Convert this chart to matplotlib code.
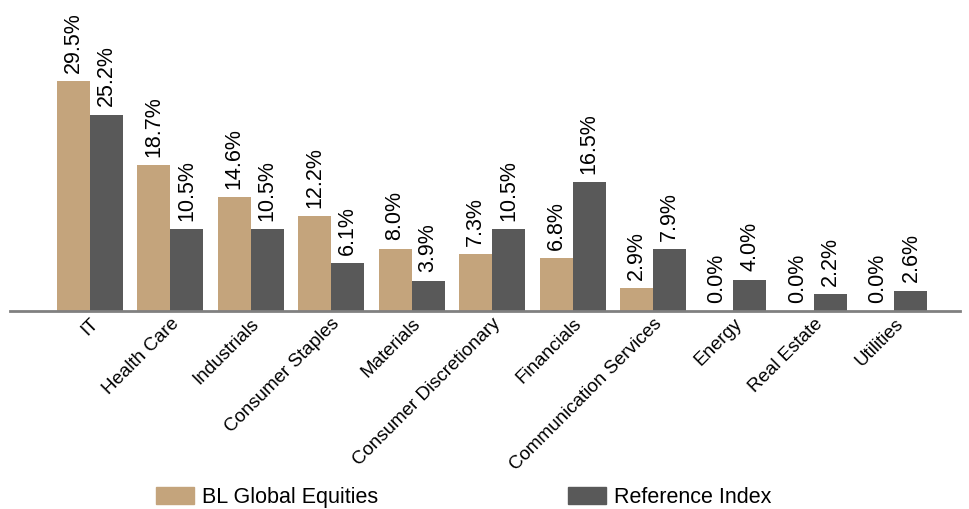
import matplotlib
matplotlib.use("Agg")
import matplotlib.pyplot as plt
import numpy as np
from matplotlib.patches import Patch

sectors = ["IT", "Health Care", "Industrials", "Consumer Staples", "Materials",
           "Consumer Discretionary", "Financials", "Communication Services",
           "Energy", "Real Estate", "Utilities"]
bl_global = [29.5, 18.7, 14.6, 12.2, 8.0, 7.3, 6.8, 2.9, 0.0, 0.0, 0.0]
reference = [25.2, 10.5, 10.5, 6.1, 3.9, 10.5, 16.5, 7.9, 4.0, 2.2, 2.6]
series_names = ["BL Global Equities", "Reference Index"]

tan = "#c4a47c"
dark = "#595959"

plt.rcParams["font.family"] = ["Liberation Sans", "DejaVu Sans"]

fig = plt.figure(figsize=(9.7, 5.09), dpi=100)
ax = fig.add_axes([0.0103, 0.389, 0.979, 0.611])

x = np.arange(len(sectors))
w = 0.41
b1 = ax.bar(x - w / 2, bl_global, w, color=tan)
b2 = ax.bar(x + w / 2, reference, w, color=dark)

# value labels above each bar
for bars, vals in ((b1, bl_global), (b2, reference)):
    for bar, v in zip(bars, vals):
        ax.annotate(f"{v:.1f}%", (bar.get_x() + bar.get_width() / 2, v),
                    xytext=(0, 6), textcoords="offset points",
                    rotation=90, ha="center", va="bottom", fontsize=15.5)

ax.set_xlim(-0.99, len(sectors) - 1 + 0.81)
ax.set_ylim(0, 39.9)
ax.set_yticks([])
ax.set_xticks(x)
ax.set_xticklabels(sectors, rotation=45, ha="right", rotation_mode="anchor",
                   fontsize=13.5)
ax.tick_params(axis="x", length=0, pad=3)
for s in ["top", "right", "left"]:
    ax.spines[s].set_visible(False)
ax.spines["bottom"].set_color("#808080")
ax.spines["bottom"].set_linewidth(2)

handles = [Patch(color=tan), Patch(color=dark)]
fig.legend(handles, series_names, loc="lower center", ncol=2, frameon=False,
           bbox_to_anchor=(0.478, -0.036), fontsize=15.5, handlelength=1.77,
           handleheight=0.84, columnspacing=8.8, handletextpad=0.37)

fig.savefig("out.png", dpi=100)
